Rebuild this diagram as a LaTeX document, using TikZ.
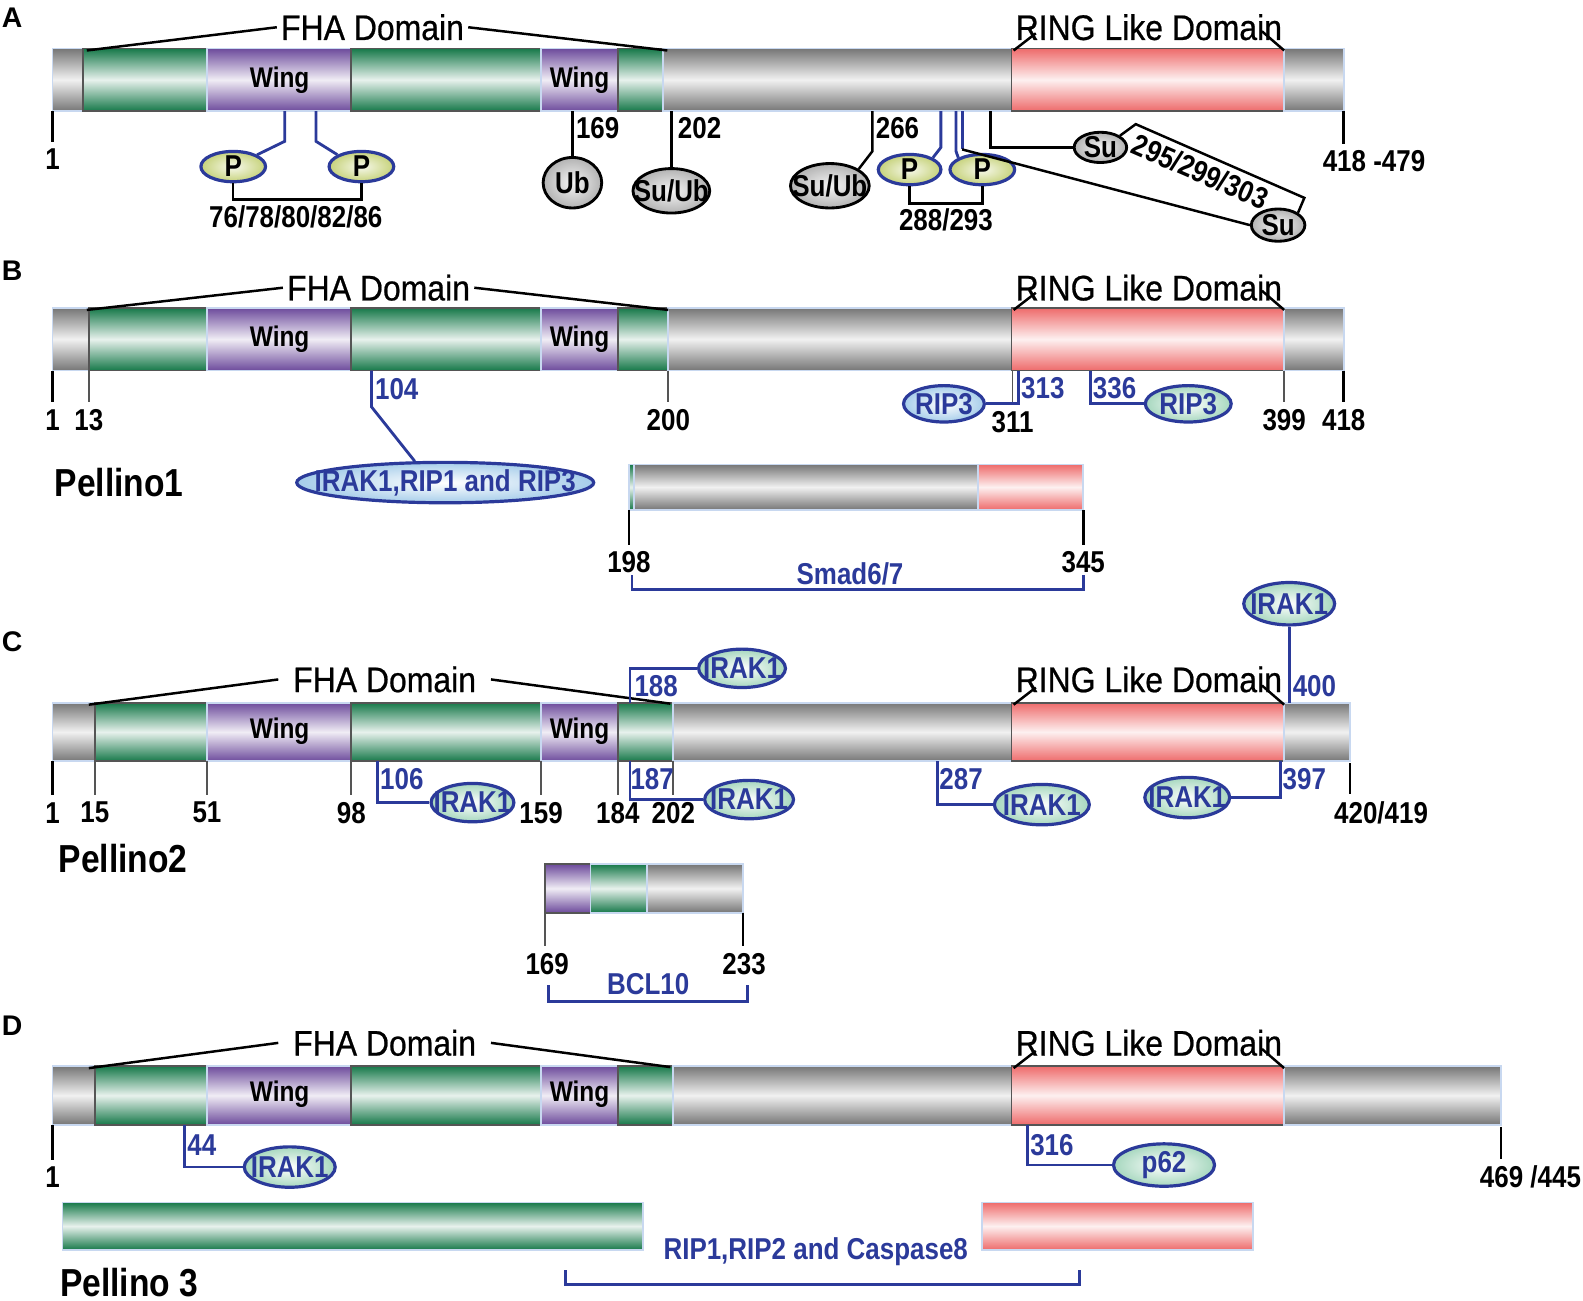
\documentclass[tikz,border=0pt]{standalone}
\usepackage{fontspec}
\setmainfont{Liberation Sans}
\newfontfamily\narrowfont[FakeStretch=0.86]{Liberation Sans}
\newfontfamily\domfont[FakeStretch=0.9,FakeBold=0.6]{Liberation Sans}
\usetikzlibrary{shapes.geometric}

\definecolor{fhagreen}{HTML}{17794A}
\definecolor{wingpurple}{HTML}{6D4B9C}
\definecolor{linkgrey}{HTML}{767676}
\definecolor{ringred}{HTML}{EE6B6B}
\definecolor{sitblue}{HTML}{2B3A9A}
\definecolor{segline}{HTML}{555555}
\definecolor{baredge}{HTML}{C8D8F0}
\definecolor{pyellow}{HTML}{C6D27A}
\definecolor{mint}{HTML}{A6D7BE}
\definecolor{skyblue}{HTML}{A6CDEA}

\newcommand{\inoval}[1]{\makebox[0pt]{#1}}

\tikzset{
  fhaseg/.style={draw=segline,line width=0.5pt,top color=fhagreen,bottom color=fhagreen,middle color=fhagreen!10},
  wingseg/.style={draw=baredge,line width=0.5pt,top color=wingpurple,bottom color=wingpurple,middle color=wingpurple!10},
  linkseg/.style={draw=baredge,line width=0.5pt,top color=linkgrey,bottom color=linkgrey,middle color=linkgrey!10},
  ringseg/.style={draw=segline,line width=0.5pt,top color=ringred,bottom color=ringred,middle color=ringred!10},
  domlbl/.style={font=\domfont\fontsize{10}{12}\selectfont,inner sep=1pt},
  winglbl/.style={font=\narrowfont\bfseries\fontsize{8}{9}\selectfont},
  panellbl/.style={font=\bfseries\fontsize{8}{9}\selectfont},
  pellbl/.style={font=\narrowfont\bfseries\fontsize{11}{13}\selectfont},
  num/.style={font=\narrowfont\bfseries\fontsize{8.5}{10}\selectfont,inner sep=0pt,outer sep=2pt},
  bnum/.style={num,text=sitblue},
  tick/.style={segline,line width=0.5pt},
  endtick/.style={black,line width=0.7pt},
  link/.style={black,line width=0.7pt},
  blink/.style={sitblue,line width=0.8pt},
  phos/.style={ellipse,draw=sitblue,line width=0.9pt,inner color=pyellow!15,outer color=pyellow,
    minimum width=0.64cm,minimum height=0.3cm,inner sep=0pt,font=\narrowfont\bfseries\fontsize{8.5}{9}\selectfont},
  sumo/.style={ellipse,draw=black,line width=0.8pt,inner color=gray!8,outer color=gray!60,
    inner sep=0pt,font=\narrowfont\bfseries\fontsize{8.5}{10}\selectfont},
  partner/.style={ellipse,draw=sitblue,line width=0.9pt,inner color=white,outer color=mint,inner sep=0pt,
    minimum width=0.86cm,minimum height=0.38cm,text=sitblue,font=\narrowfont\bfseries\fontsize{8.5}{10}\selectfont},
  bluepartner/.style={partner,outer color=skyblue},
}

\begin{document}
\begin{tikzpicture}[x=0.01cm,y=-0.01cm]
\useasboundingbox (0,0) rectangle (1568,1288);

% A
\node[panellbl] (labA) at (12,18) {A};
\coordinate (Abot) at (0,110);
\draw[linkseg] (52,48) rectangle (82,110);
\draw[fhaseg] (82,48) rectangle (205,110);
\draw[wingseg] (205,48) rectangle (348,110);
\draw[fhaseg] (348,48) rectangle (536,110);
\draw[wingseg] (536,48) rectangle (612,110);
\draw[fhaseg] (612,48) rectangle (657,110);
\draw[linkseg] (657,48) rectangle (1002,110);
\draw[ringseg] (1002,48) rectangle (1272,110);
\draw[linkseg] (1272,48) rectangle (1331,110);
\node[winglbl] (wingA1) at (277,79) {Wing};
\node[winglbl] (wingA2) at (574,79) {Wing};

\node[domlbl] (fhaA) at (369,27) {FHA Domain};
\node[domlbl] (ringA) at (1138,27) {RING Like Domain};
\coordinate (fhaAl) at (86,50);
\coordinate (fhaAr) at (661,50);
\draw[link] (fhaAl) -- (fhaA.west);
\draw[link] (fhaA.east) -- (fhaAr);
\coordinate (ringAl) at (1004,50);
\coordinate (ringAlt) at (1026,33);
\coordinate (ringAr) at (1272,50);
\coordinate (ringArt) at (1250,31);
\draw[link] (ringAl) -- (ringAlt);
\draw[link] (ringAr) -- (ringArt);

\node[num] (nA1) at (52,158) {1};
\draw[endtick] (nA1.north |- Abot) -- (nA1.north);
\node[num] (nA418) at (1361,160) {418 -479};
\coordinate (eA) at (1331,110);
\draw[endtick] (eA) -- (eA |- nA418.north);

\node[phos] (pA1) at (231,165) {\inoval{P}};
\node[phos] (pA2) at (358,165) {\inoval{P}};
\coordinate (aP1) at (282,110);
\coordinate (aP2) at (313,110);
\draw[blink] (aP1) -- ++(0,30) -- (pA1.north east);
\draw[blink] (aP2) -- ++(0,30) -- (pA2.north west);
\draw[link] (pA1.south) -- ++(0,16) -| (pA2.south);
\node[num] (sA76) at (293,215) {76/78/80/82/86};

\node[sumo,minimum width=0.58cm,minimum height=0.5cm] (ubA) at (567,181) {\inoval{Ub}};
\draw[link] (ubA.north |- Abot) -- (ubA.north);
\node[num] (sA169) at (592,127) {169};

\node[sumo,minimum width=0.76cm,minimum height=0.44cm] (suubA1) at (665,189) {\inoval{Su/Ub}};
\draw[link] (suubA1.north |- Abot) -- (suubA1.north);
\node[num] (sA202) at (693,127) {202};

\node[sumo,minimum width=0.78cm,minimum height=0.44cm] (suubA2) at (822,184) {\inoval{Su/Ub}};
\coordinate (a266) at (864,110);
\draw[link] (a266) -- ++(0,40) -- (suubA2.north east);
\node[num] (sA266) at (889,127) {266};

\node[phos,minimum width=0.62cm] (pA3) at (901,168) {\inoval{P}};
\node[phos] (pA4) at (973,168) {\inoval{P}};
\coordinate (a288) at (932,110);
\coordinate (a293) at (947,110);
\draw[blink] (a288) -- ++(0,36) -- (pA3.north east);
\draw[blink] (a293) -- ++(0,40) -- (pA4.north west);
\draw[link] (pA3.south) -- ++(0,17) -| (pA4.south);
\node[num] (sA288) at (937,218) {288/293};

\node[sumo,minimum width=0.52cm,minimum height=0.3cm] (suA1) at (1090,146) {\inoval{Su}};
\node[sumo,minimum width=0.53cm,minimum height=0.32cm] (suA2) at (1266,223) {\inoval{Su}};
\coordinate (a295) at (981,110);
\coordinate (a299) at (953,110);
\draw[link] (a295) |- (suA1.west);
\draw[blink] (a299) -- ++(0,38) coordinate (k299);
\draw[link] (k299) -- (suA2.west);
\coordinate (brA1) at (1125,123);
\coordinate (brA2) at (1292,196);
\draw[link] (suA1.north east) -- (brA1) -- (brA2) -- (suA2.north east);
\node[num,rotate=-23.5] (sA295) at (1189,170) {295/299/303};

% B
\node[panellbl] (labB) at (12,268) {B};
\coordinate (Bbot) at (0,367);
\draw[linkseg] (52,305) rectangle (88,367);
\draw[fhaseg] (88,305) rectangle (205,367);
\draw[wingseg] (205,305) rectangle (348,367);
\draw[fhaseg] (348,305) rectangle (536,367);
\draw[wingseg] (536,305) rectangle (612,367);
\draw[fhaseg] (612,305) rectangle (662,367);
\draw[linkseg] (662,305) rectangle (1002,367);
\draw[ringseg] (1002,305) rectangle (1272,367);
\draw[linkseg] (1272,305) rectangle (1331,367);
\node[winglbl] (wingB1) at (277,336) {Wing};
\node[winglbl] (wingB2) at (574,336) {Wing};

\node[domlbl] (fhaB) at (375,285) {FHA Domain};
\node[domlbl] (ringB) at (1138,285) {RING Like Domain};
\coordinate (fhaBl) at (86,307);
\coordinate (fhaBr) at (662,307);
\draw[link] (fhaBl) -- (fhaB.west);
\draw[link] (fhaB.east) -- (fhaBr);
\coordinate (ringBl) at (1004,307);
\coordinate (ringBlt) at (1026,290);
\coordinate (ringBr) at (1272,307);
\coordinate (ringBrt) at (1250,288);
\draw[link] (ringBl) -- (ringBlt);
\draw[link] (ringBr) -- (ringBrt);

\node[num] (nB1) at (52,416) {1};
\node[num] (nB13) at (88,416) {13};
\node[num] (nB200) at (662,416) {200};
\node[num] (nB311) at (1003,418) {311};
\node[num] (nB399) at (1272,416) {399};
\node[num] (nB418) at (1331,416) {418};
\draw[endtick] (nB1.north |- Bbot) -- (nB1.north);
\draw[tick] (nB13.north |- Bbot) -- (nB13.north);
\draw[tick] (nB200.north |- Bbot) -- (nB200.north);
\draw[tick] (nB311.north |- Bbot) -- (nB311.north);
\draw[tick] (nB399.north |- Bbot) -- (nB399.north);
\draw[endtick] (nB418.north |- Bbot) -- (nB418.north);

\node[bluepartner,minimum width=2.94cm,minimum height=0.4cm] (rB1) at (441,478) {\inoval{IRAK1,RIP1 and RIP3}};
\coordinate (a104) at (368,367);
\draw[blink] (a104) -- ++(0,36) -- (rB1.145);
\node[bnum] (sB104) at (393,385) {104};

\node[bluepartner,minimum width=0.8cm,minimum height=0.36cm] (ripB1) at (935,400) {\inoval{RIP3}};
\coordinate (a313) at (1009,367);
\draw[blink] (a313) |- (ripB1.east);
\node[bnum] (sB313) at (1033,384) {313};
\node[partner,minimum width=0.85cm,minimum height=0.36cm] (ripB2) at (1177,400) {\inoval{RIP3}};
\coordinate (a336) at (1080,367);
\draw[blink] (a336) |- (ripB2.west);
\node[bnum] (sB336) at (1104,384) {336};

\node[pellbl] (pel1) at (118,478) {Pellino1};

\draw[fhaseg,draw=baredge] (623,460) rectangle (628,505);
\draw[linkseg] (628,460) rectangle (969,505);
\draw[ringseg,draw=baredge] (969,460) rectangle (1073,505);
\coordinate (smadl) at (623,505);
\coordinate (smadr) at (1073,505);
\node[num] (nB198) at (623,557) {198};
\node[num] (nB345) at (1073,557) {345};
\draw[endtick] (smadl) -- (nB198.north);
\draw[endtick] (smadr) -- (nB345.north);
\coordinate (smadbl) at (626,570);
\coordinate (smadbr) at (1073,570);
\draw[blink] (smadbl) -- ++(0,14) -| (smadbr);
\node[bnum] (smad) at (842,568) {Smad6/7};

% C
\node[panellbl] (labC) at (12,636) {C};
\coordinate (Cbot) at (0,754);
\draw[linkseg] (52,696) rectangle (94,754);
\draw[fhaseg] (94,696) rectangle (205,754);
\draw[wingseg] (205,696) rectangle (348,754);
\draw[fhaseg] (348,696) rectangle (536,754);
\draw[wingseg] (536,696) rectangle (612,754);
\draw[fhaseg] (612,696) rectangle (667,754);
\draw[linkseg] (667,696) rectangle (1002,754);
\draw[ringseg] (1002,696) rectangle (1272,754);
\draw[linkseg] (1272,696) rectangle (1337,754);
\node[winglbl] (wingC1) at (277,724) {Wing};
\node[winglbl] (wingC2) at (574,724) {Wing};

\node[domlbl,inner sep=4pt] (fhaC) at (381,673) {FHA Domain};
\node[domlbl] (ringC) at (1138,673) {RING Like Domain};
\coordinate (fhaCl) at (88,698);
\coordinate (fhaCr) at (664,697);
\draw[link] (fhaCl) -- (fhaC.west);
\draw[link] (fhaC.east) -- (fhaCr);
\coordinate (ringCl) at (1004,698);
\coordinate (ringClt) at (1026,681);
\coordinate (ringCr) at (1272,698);
\coordinate (ringCrt) at (1250,679);
\draw[link] (ringCl) -- (ringClt);
\draw[link] (ringCr) -- (ringCrt);

\node[num] (nC1) at (52,805) {1};
\node[num] (nC15) at (94,805) {15};
\node[num] (nC51) at (205,805) {51};
\node[num] (nC98) at (348,805) {98};
\node[num] (nC159) at (536,805) {159};
\node[num] (nC184) at (612,805) {184};
\node[num] (nC202) at (667,805) {202};
\node[num] (nC420) at (1368,805) {420/419};
\draw[endtick] (nC1.north |- Cbot) -- (nC1.north);
\draw[tick] (nC15.north |- Cbot) -- (nC15.north);
\draw[tick] (nC51.north |- Cbot) -- (nC51.north);
\draw[tick] (nC98.north |- Cbot) -- (nC98.north);
\draw[tick] (nC159.north |- Cbot) -- (nC159.north);
\draw[tick] (nC184.north |- Cbot) -- (nC184.north);
\draw[tick] (nC202.north |- Cbot) -- (nC202.north);
\coordinate (eC) at (1337,756);
\draw[endtick] (eC) -- (eC |- nC420.north);

\node[partner] (irC1) at (735,662) {\inoval{IRAK1}};
\coordinate (a188) at (624,696);
\draw[blink] (a188) |- (irC1.west);
\node[bnum] (sC188) at (650,680) {188};
\node[partner,minimum width=0.88cm] (irC2) at (742,792) {\inoval{IRAK1}};
\coordinate (a187) at (624,754);
\draw[blink] (a187) |- (irC2.west);
\node[bnum] (sC187) at (646,772) {187};
\node[partner,minimum width=0.82cm] (irC3) at (468,795) {\inoval{IRAK1}};
\coordinate (a106) at (374,754);
\draw[blink] (a106) |- (irC3.west);
\node[bnum] (sC106) at (398,772) {106};
\node[partner,minimum width=0.94cm,minimum height=0.4cm] (irC4) at (1032,797) {\inoval{IRAK1}};
\coordinate (a287) at (929,754);
\draw[blink] (a287) |- (irC4.west);
\node[bnum] (sC287) at (952,772) {287};
\node[partner,minimum width=0.84cm,minimum height=0.4cm] (irC5) at (1176,790) {\inoval{IRAK1}};
\coordinate (a397) at (1268,754);
\draw[blink] (a397) |- (irC5.east);
\node[bnum] (sC397) at (1292,772) {397};
\node[partner,minimum width=0.9cm,minimum height=0.42cm] (irC6) at (1277,598) {\inoval{IRAK1}};
\coordinate (a400) at (1277,696);
\draw[blink] (a400) -- (irC6.south);
\node[bnum] (sC400) at (1302,680) {400};

\node[pellbl] (pel2) at (122,850) {Pellino2};

\draw[wingseg,draw=segline] (540,856) rectangle (585,904);
\draw[fhaseg,draw=baredge] (585,856) rectangle (641,904);
\draw[linkseg] (641,856) rectangle (736,904);
\coordinate (bcll) at (540,904);
\coordinate (bclr) at (736,904);
\node[num] (nC169) at (542,955) {169};
\node[num] (nC233) at (737,955) {233};
\draw[tick] (bcll) -- (bcll |- nC169.north);
\draw[endtick] (bclr) -- (bclr |- nC233.north);
\coordinate (bclbl) at (543,976);
\coordinate (bclbr) at (740,976);
\draw[blink] (bclbl) -- ++(0,16) -| (bclbr);
\node[bnum] (bcl) at (642,975) {BCL10};

% D
\node[panellbl] (labD) at (12,1016) {D};
\coordinate (Dbot) at (0,1114);
\draw[linkseg] (52,1056) rectangle (94,1114);
\draw[fhaseg] (94,1056) rectangle (205,1114);
\draw[wingseg] (205,1056) rectangle (348,1114);
\draw[fhaseg] (348,1056) rectangle (536,1114);
\draw[wingseg] (536,1056) rectangle (612,1114);
\draw[fhaseg] (612,1056) rectangle (667,1114);
\draw[linkseg] (667,1056) rectangle (1002,1114);
\draw[ringseg] (1002,1056) rectangle (1272,1114);
\draw[linkseg] (1272,1056) rectangle (1487,1114);
\node[winglbl] (wingD1) at (277,1084) {Wing};
\node[winglbl] (wingD2) at (574,1084) {Wing};

\node[domlbl,inner sep=4pt] (fhaD) at (381,1033) {FHA Domain};
\node[domlbl] (ringD) at (1138,1033) {RING Like Domain};
\coordinate (fhaDl) at (88,1058);
\coordinate (fhaDr) at (664,1057);
\draw[link] (fhaDl) -- (fhaD.west);
\draw[link] (fhaD.east) -- (fhaDr);
\coordinate (ringDl) at (1004,1058);
\coordinate (ringDlt) at (1026,1041);
\coordinate (ringDr) at (1272,1058);
\coordinate (ringDrt) at (1250,1039);
\draw[link] (ringDl) -- (ringDlt);
\draw[link] (ringDr) -- (ringDrt);

\node[num] (nD1) at (52,1166) {1};
\draw[endtick] (nD1.north |- Dbot) -- (nD1.north);
\node[num] (nD469) at (1516,1166) {469 /445};
\coordinate (eD) at (1487,1116);
\draw[endtick] (eD) -- (eD |- nD469.north);

\node[partner,minimum width=0.9cm,minimum height=0.4cm] (irD1) at (287,1156) {\inoval{IRAK1}};
\coordinate (a44) at (183,1114);
\draw[blink] (a44) |- (irD1.west);
\node[bnum] (sD44) at (200,1134) {44};
\node[partner,minimum width=1.0cm,minimum height=0.42cm] (p62) at (1153,1154) {\inoval{p62}};
\coordinate (a316) at (1018,1114);
\draw[blink] (a316) |- (p62.west);
\node[bnum] (sD316) at (1042,1134) {316};

\draw[fhaseg,draw=baredge] (62,1191) rectangle (637,1238);
\draw[ringseg,draw=baredge] (973,1191) rectangle (1241,1238);
\coordinate (ripbl) at (560,1258);
\coordinate (ripbr) at (1069,1258);
\draw[blink] (ripbl) -- ++(0,14) -| (ripbr);
\node[bnum] (rip) at (808,1240) {RIP1,RIP2 and Caspase8};

\node[pellbl] (pel3) at (128,1270) {Pellino 3};

\end{tikzpicture}
\end{document}
